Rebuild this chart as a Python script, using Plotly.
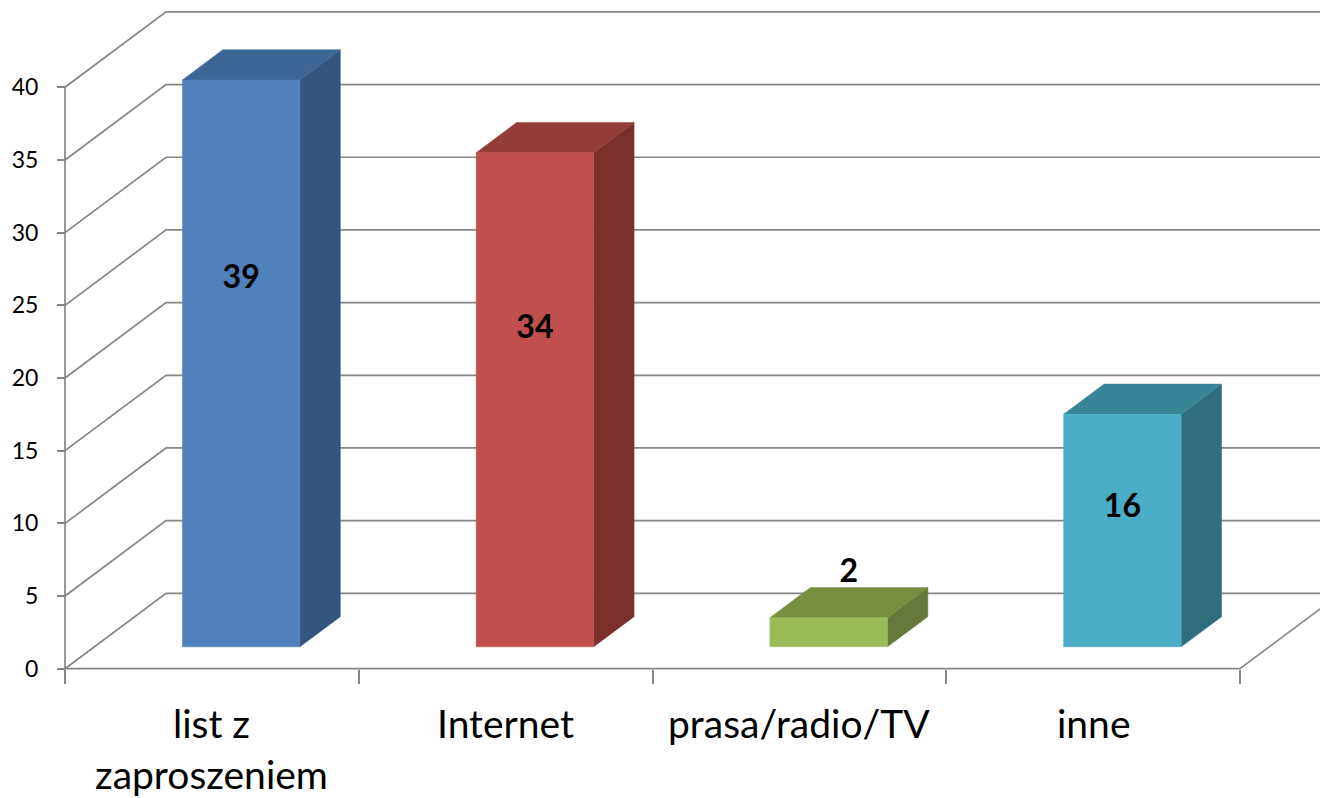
import plotly.graph_objects as go

# ---- data ----
categories = ["list z<br>zaproszeniem", "Internet", "prasa/radio/TV", "inne"]
values = [39, 34, 2, 16]
y_ticks = [0, 5, 10, 15, 20, 25, 30, 35, 40]

front_colors = ["#4F81BD", "#C0504D", "#9BBB59", "#4BACC6"]
top_colors = ["#3D6595", "#943C3A", "#778F3F", "#388598"]
side_colors = ["#345580", "#7C302E", "#66793A", "#306D7E"]

# ---- geometry / style constants (page has an 8px body margin) ----
PAGE_OFF = 8
W, H = 1328 - PAGE_OFF, 798 - PAGE_OFF
PX_X = 293.75          # pixels per category
PX_Y = 14.535          # pixels per value unit
X0_PX = 65 - PAGE_OFF  # pixel column of the front-left corner
Y0_PX = 668.7 - PAGE_OFF  # pixel row of value 0 (front)
DX = 101 / PX_X        # full depth offset (x, category units)
DY = 75.4 / PX_Y       # full depth offset (y, value units)
BAR_W = 0.4            # bar width (category units)
D0, D1 = 0.29, 0.69    # bar depth span (fraction of full depth)
GRID = "#868686"
GW = 1.7
FONT = "Lato"

n = len(categories)
x_range = [-X0_PX / PX_X, (W - X0_PX) / PX_X]
y_range = [-(H - Y0_PX) / PX_Y, Y0_PX / PX_Y]

fig = go.Figure()

# back wall gridlines + diagonals on the left wall
gx, gy = [], []
for v in y_ticks:
    gx += [0, DX, n + DX + 1, None]
    gy += [v, v + DY, v + DY, None]
# front y axis line
gx += [0, 0, None]
gy += [0, y_ticks[-1], None]
# front floor edge and right floor diagonal
gx += [0, n, n + DX, None]
gy += [0, 0, DY, None]
fig.add_trace(go.Scatter(x=gx, y=gy, mode="lines",
                         line=dict(color=GRID, width=GW),
                         hoverinfo="skip", showlegend=False))

# bars (front, top, side faces)
lab_x, lab_y, lab_pos, lab_txt = [], [], [], []
for i, v in enumerate(values):
    xl = i + 0.5 - BAR_W / 2
    xr = i + 0.5 + BAR_W / 2
    fx0, fx1 = xl + D0 * DX, xr + D0 * DX
    bx0, bx1 = xl + D1 * DX, xr + D1 * DX
    fy0, fy1 = D0 * DY, D0 * DY + v
    by0, by1 = D1 * DY, D1 * DY + v
    # side
    fig.add_trace(go.Scatter(x=[fx1, bx1, bx1, fx1, fx1], y=[fy0, by0, by1, fy1, fy0],
                             mode="lines", fill="toself", fillcolor=side_colors[i],
                             line=dict(color=side_colors[i], width=0.5),
                             hoverinfo="skip", showlegend=False))
    # top
    fig.add_trace(go.Scatter(x=[fx0, fx1, bx1, bx0, fx0], y=[fy1, fy1, by1, by1, fy1],
                             mode="lines", fill="toself", fillcolor=top_colors[i],
                             line=dict(color=top_colors[i], width=0.5),
                             hoverinfo="skip", showlegend=False))
    # front
    fig.add_trace(go.Scatter(x=[fx0, fx1, fx1, fx0, fx0], y=[fy0, fy0, fy1, fy1, fy0],
                             mode="lines", fill="toself", fillcolor=front_colors[i],
                             line=dict(color=front_colors[i], width=0.5),
                             hoverinfo="skip", showlegend=False))
    lab_txt.append(f"<b>{v}</b>")
    if v >= 5:
        lab_x.append((fx0 + fx1) / 2)
        lab_y.append(0.685 * v)
        lab_pos.append("middle center")
    else:
        lab_x.append((fx0 + fx1 + bx0 + bx1) / 4)
        lab_y.append(by1 - 0.15)
        lab_pos.append("top center")

fig.add_trace(go.Scatter(x=lab_x, y=lab_y, mode="text", text=lab_txt,
                         textposition=lab_pos,
                         textfont=dict(family=FONT, size=32, color="black"),
                         cliponaxis=False, hoverinfo="skip", showlegend=False))

# category labels
for i, c in enumerate(categories):
    fig.add_annotation(x=i + 0.5, xref="x", y=1 - 690 / H, yref="paper",
                       yanchor="top", text=c, showarrow=False,
                       font=dict(family=FONT, size=39, color="black"))

fig.update_layout(
    width=W, height=H, autosize=False,
    margin=dict(l=0, r=0, t=0, b=0),
    paper_bgcolor="white", plot_bgcolor="white",
    xaxis=dict(range=x_range, domain=[0, 1], anchor="free",
               position=(H - Y0_PX) / H,
               tickvals=list(range(n + 1)), ticks="outside", ticklen=14,
               tickwidth=GW, tickcolor=GRID, showticklabels=False,
               showgrid=False, zeroline=False, showline=False, fixedrange=True),
    yaxis=dict(range=y_range, domain=[0, 1], anchor="free",
               position=X0_PX / W,
               tickvals=y_ticks, ticks="outside", ticklen=8,
               tickwidth=GW, tickcolor=GRID, ticklabelstandoff=14,
               tickfont=dict(family=FONT, size=23, color="black"),
               showgrid=False, zeroline=False, showline=False, fixedrange=True),
)

fig.write_html("out.html")
